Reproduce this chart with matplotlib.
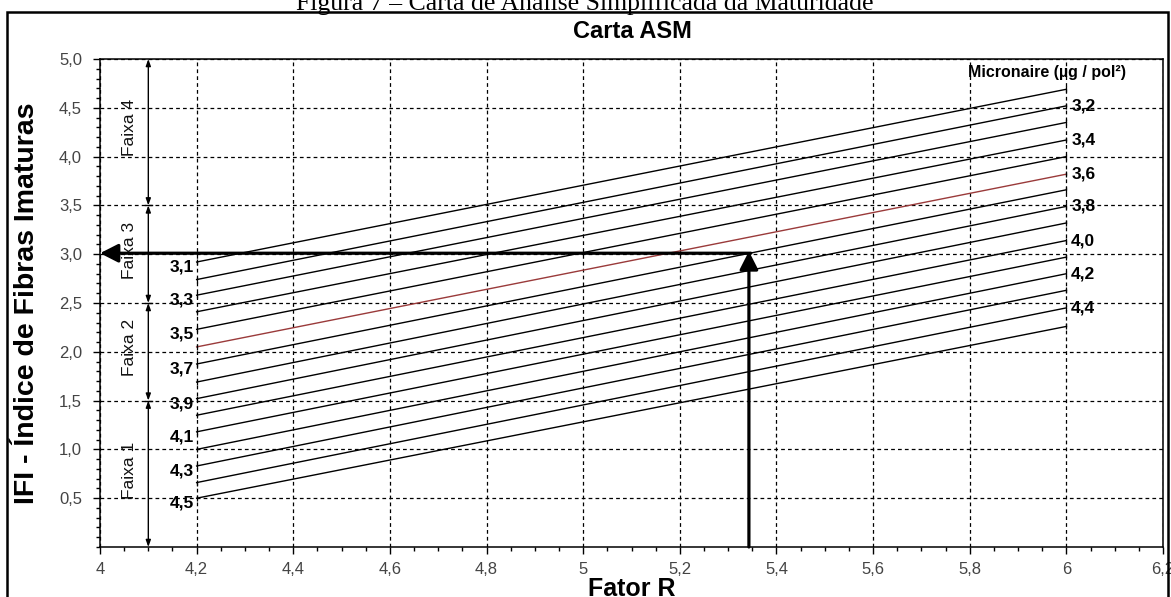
import matplotlib
matplotlib.use("Agg")
import matplotlib.pyplot as plt
from matplotlib.patches import Rectangle
from matplotlib.ticker import MultipleLocator

# ---- data ----
micronaire = [3.1, 3.2, 3.3, 3.4, 3.5, 3.6, 3.7, 3.8, 3.9, 4.0, 4.1, 4.2, 4.3, 4.4, 4.5]
r_start = 4.2
r_end = 6.0
ifi_start = [2.92, 2.74, 2.58, 2.41, 2.23, 2.05, 1.875, 1.69, 1.52, 1.35, 1.18, 1.00, 0.83, 0.66, 0.50]
ifi_end = [4.69, 4.52, 4.35, 4.17, 4.00, 3.82, 3.66, 3.49, 3.32, 3.14, 2.97, 2.80, 2.63, 2.45, 2.26]
highlight = 3.6

faixa_bounds = [5.0, 3.5, 2.5, 1.5, 0.0]
faixa_names = ["Faixa 4", "Faixa 3", "Faixa 2", "Faixa 1"]
faixa_label_y = [4.30, 3.04, 2.04, 0.79]

example_r = 5.343
example_ifi = 3.01

x_ticks = [4.0, 4.2, 4.4, 4.6, 4.8, 5.0, 5.2, 5.4, 5.6, 5.8, 6.0, 6.2]
y_ticks = [0.5, 1.0, 1.5, 2.0, 2.5, 3.0, 3.5, 4.0, 4.5, 5.0]

# ---- figure ----
W, H = 1171, 597
fig = plt.figure(figsize=(W / 100, H / 100), dpi=100)
plt.rcParams['font.family'] = ['Liberation Sans', 'DejaVu Sans']

ax = fig.add_axes([100 / W, 50 / H, (1163 - 100) / W, (547 - 59) / H])
ax.set_xlim(4.0, 6.2)
ax.set_ylim(0.0, 5.0)

ax.set_xticks(x_ticks)
ax.set_xticklabels([f"{v:g}".replace(".", ",") for v in x_ticks])
ax.set_yticks(y_ticks)
ax.set_yticklabels([f"{v:.1f}".replace(".", ",") for v in y_ticks])
ax.xaxis.set_minor_locator(MultipleLocator(0.05))
ax.yaxis.set_minor_locator(MultipleLocator(0.1))
ax.tick_params(which='major', direction='out', length=5, width=1, color='black',
               labelsize=12, labelcolor='#444444')
ax.tick_params(which='minor', direction='out', length=3, width=1, color='black')
ax.tick_params(axis='x', which='major', pad=6)
ax.tick_params(axis='y', which='major', pad=8)
ax.grid(True, which='major', color='black', linestyle=(0, (3, 2.5)), linewidth=0.9)
for s in ax.spines.values():
    s.set_linewidth(1.1)
    s.set_color('black')

# micronaire lines
lbl_font = ['Liberation Sans Narrow', 'Liberation Sans', 'DejaVu Sans']
for m, a, b in zip(micronaire, ifi_start, ifi_end):
    col = '#9a3a3a' if abs(m - highlight) < 1e-9 else 'black'
    ax.plot([r_start, r_end], [a, b], color=col, lw=1.0, zorder=3)
    ax.plot([r_start, r_end], [a, b], linestyle='none', marker='|', ms=5,
            mew=0.9, color='black', zorder=3)
    idx = round((m - 3.1) * 10)
    txt = f"{m:.1f}".replace(".", ",")
    if idx % 2 == 0:
        ax.text(r_start - 0.005, a - 0.05, txt, ha='right', va='center',
                fontsize=12.5, fontweight='bold', family=lbl_font, zorder=4)
    else:
        ax.text(r_end + 0.01, b, txt, ha='left', va='center',
                fontsize=12.5, fontweight='bold', family=lbl_font, zorder=4)

ax.text(6.124, 4.857, "Micronaire (µg / pol²)", ha='right', va='center',
        fontsize=11.5, fontweight='bold', zorder=4)

# faixa arrows
for top, bot in zip(faixa_bounds[:-1], faixa_bounds[1:]):
    ax.annotate('', xy=(4.1, top), xytext=(4.1, bot),
                arrowprops=dict(arrowstyle='<|-|>,head_length=0.5,head_width=0.18',
                                lw=1.0, color='black', mutation_scale=8,
                                shrinkA=0, shrinkB=0), zorder=4)
for v in faixa_bounds[1:-1]:
    ax.plot([4.093, 4.107], [v, v], color='black', lw=1.0, zorder=4)
for name, y in zip(faixa_names, faixa_label_y):
    ax.text(4.062, y, name, rotation=90, ha='center', va='center',
            fontsize=12.5, color='#111111', zorder=4)

# example arrows
ax.annotate('', xy=(example_r, example_ifi + 0.02), xytext=(example_r, 0.0),
            arrowprops=dict(arrowstyle='-|>,head_length=0.55,head_width=0.28',
                            lw=2.3, color='black', mutation_scale=20,
                            shrinkA=0, shrinkB=0), zorder=5)
ax.annotate('', xy=(4.0, example_ifi), xytext=(example_r + 0.004, example_ifi),
            arrowprops=dict(arrowstyle='-|>,head_length=0.55,head_width=0.28',
                            lw=2.3, color='black', mutation_scale=20,
                            shrinkA=0, shrinkB=0), zorder=5)

ax.text((27 - 100) / 1063, 0.5, "IFI - Índice de Fibras Imaturas", transform=ax.transAxes,
        rotation=90, ha='center', va='center', fontsize=20.5, fontweight='bold')

fig.text(632 / W, (H - 31) / H, "Carta ASM", ha='center', va='center',
         fontsize=17, fontweight='bold')
fig.text(632 / W, 1.0 / H, "Fator R", ha='center', va='baseline',
         fontsize=18, fontweight='bold')
fig.text(585 / W, (H - 10) / H, "Figura 7 – Carta de Análise Simplificada da Maturidade",
         ha='center', va='baseline', fontsize=18.5, family=['Liberation Serif', 'DejaVu Serif'])

fig.patches.append(Rectangle((7 / W, -0.05), (1168 - 7) / W, (H - 12) / H + 0.05,
                             transform=fig.transFigure, fill=False, lw=1.8,
                             edgecolor='black', clip_on=False))

fig.savefig("out.png", dpi=100)
